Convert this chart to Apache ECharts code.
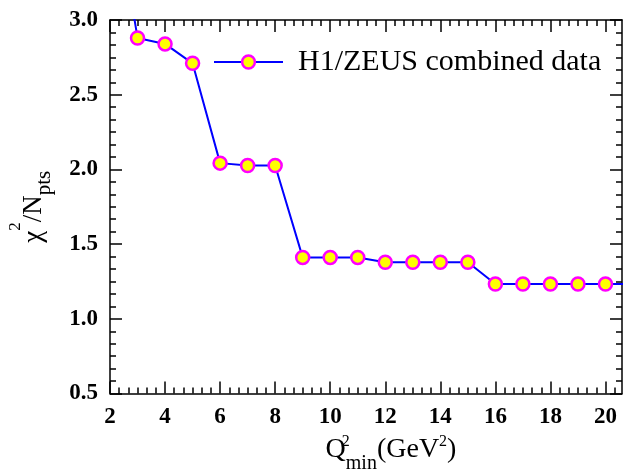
<!DOCTYPE html>
<html>
<head>
<meta charset="utf-8">
<script src="https://cdn.jsdelivr.net/npm/echarts@6/dist/echarts.min.js"></script>
<style>
html,body{margin:0;padding:0;background:#fff;}
#chart{width:630px;height:472px;}
</style>
</head>
<body>
<div id="chart"></div>
<script>
// Data
const qMin = [2, 3, 4, 5, 6, 7, 8, 9, 10, 11, 12, 13, 14, 15, 16, 17, 18, 19, 20, 21];
const chi2 = [4.0, 2.88, 2.84, 2.71, 2.042, 2.026, 2.026, 1.411, 1.411, 1.411, 1.379, 1.379, 1.379, 1.379, 1.233, 1.233, 1.233, 1.233, 1.233, 1.233];
const xTicks = [2, 4, 6, 8, 10, 12, 14, 16, 18, 20];
const yTicks = [0.5, 1.0, 1.5, 2.0, 2.5, 3.0];
const seriesName = 'H1/ZEUS combined data';

const X_MIN = 2, X_MAX = 20.6;
const xMinor = [];
for (let i = 0; i <= 56; i++) {
  const v = X_MIN + i * 2 / 6;
  if (v > X_MAX) break;
  if (i % 6 !== 0) xMinor.push(+v.toFixed(4));
}

const serif = "'Liberation Serif','Times New Roman',serif";
const axisLineStyle = { color: '#000', width: 1.5 };
const labelStyle = { fontFamily: serif, fontSize: 23, fontWeight: 'bold', color: '#000' };

function xAxisDef(position, major, showLabel, withName) {
  const ax = {
    type: 'value', position: position, min: X_MIN, max: X_MAX,
    axisLine: { show: major, onZero: false, lineStyle: axisLineStyle },
    axisTick: { show: true, inside: true, length: major ? 12 : 6, customValues: major ? xTicks : xMinor, lineStyle: axisLineStyle },
    axisLabel: showLabel ? Object.assign({ customValues: xTicks, margin: 12 }, labelStyle) : { show: false },
    splitLine: { show: false }, minorTick: { show: false }
  };
  if (withName) {
    ax.name = '{m|Q}{s0|2}{b|min}{m|(GeV}{s|2}{m|)}';
    ax.nameLocation = 'middle';
    ax.nameGap = 36;
    ax.nameTextStyle = {
      padding: [0, 0, 0, 50],
      rich: {
        m: { fontFamily: serif, fontSize: 28, color: '#000', verticalAlign: 'top', padding: [2.5, 0, 0, 0] },
        s0: { fontFamily: serif, fontSize: 16, color: '#000', verticalAlign: 'top', width: 0 },
        s: { fontFamily: serif, fontSize: 16, color: '#000', verticalAlign: 'top' },
        b: { fontFamily: serif, fontSize: 20, color: '#000', verticalAlign: 'top', padding: [20.7, 0, 0, 0] }
      }
    };
  }
  return ax;
}

function yAxisDef(position, showLabel, withName) {
  const ax = {
    type: 'value', position: position, min: yTicks[0], max: yTicks[yTicks.length - 1], interval: 0.5,
    axisLine: { show: true, onZero: false, lineStyle: axisLineStyle },
    axisTick: { show: true, inside: true, length: 12, lineStyle: axisLineStyle },
    minorTick: { show: true, splitNumber: 6, length: 6, lineStyle: axisLineStyle },
    axisLabel: showLabel ? Object.assign({ margin: 12, formatter: v => v.toFixed(1) }, labelStyle) : { show: false },
    splitLine: { show: false }, minorSplitLine: { show: false }
  };
  if (withName) {
    ax.name = '{c|χ}{s|2}{m|/N}{b|pts}';
    ax.nameLocation = 'middle';
    ax.nameRotate = 90;
    ax.nameGap = 54.6;
    ax.nameTextStyle = {
      rich: {
        c: { fontFamily: serif, fontSize: 27, color: '#000', verticalAlign: 'top', padding: [13.2, 0, 0, 0] },
        m: { fontFamily: serif, fontSize: 27, color: '#000', verticalAlign: 'top', padding: [13.2, 0, 0, 0] },
        s: { fontFamily: serif, fontSize: 17, color: '#000', verticalAlign: 'top' },
        b: { fontFamily: serif, fontSize: 21, color: '#000', verticalAlign: 'top', padding: [27, 0, 0, 0] }
      }
    };
  }
  return ax;
}

const chart = echarts.init(document.getElementById('chart'), null, { renderer: 'canvas' });
chart.setOption({
  animation: false,
  backgroundColor: '#fff',
  grid: { left: 110, right: 8, top: 20, bottom: 78.5, containLabel: false, outerBoundsMode: 'none' },
  legend: {
    show: true, left: 213, top: 47, padding: 0,
    itemWidth: 69, itemHeight: 16,
    data: [seriesName],
    lineStyle: { color: '#0000ff', width: 2 },
    itemStyle: { color: '#ffff00', borderColor: '#ff00ff', borderWidth: 2.5 },
    textStyle: { fontFamily: serif, fontSize: 30, color: '#000', padding: [0, 0, 0, 10] }
  },
  xAxis: [
    xAxisDef('bottom', true, true, true),
    xAxisDef('bottom', false, false, false),
    xAxisDef('top', true, false, false),
    xAxisDef('top', false, false, false)
  ],
  yAxis: [
    yAxisDef('left', true, true),
    yAxisDef('right', false, false)
  ],
  series: [{
    name: seriesName, type: 'line', xAxisIndex: 0, yAxisIndex: 0,
    clip: true,
    data: qMin.map((q, i) => [q, chi2[i]]),
    symbol: 'circle', symbolSize: 13, showAllSymbol: true,
    lineStyle: { color: '#0000ff', width: 2 },
    itemStyle: { color: '#ffff00', borderColor: '#ff00ff', borderWidth: 2.5 },
    z: 3
  }]
});
</script>
</body>
</html>
